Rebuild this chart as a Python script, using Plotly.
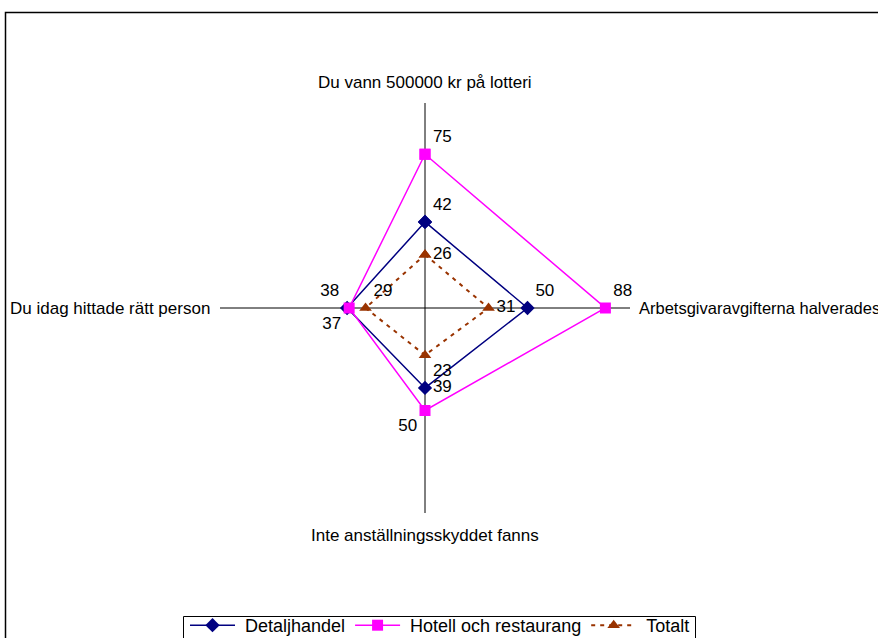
import plotly.graph_objects as go

W, H = 878, 638

categories = ["Du vann 500000 kr på lotteri", "Arbetsgivaravgifterna halverades",
              "Inte anställningsskyddet fanns", "Du idag hittade rätt person"]
series_names = ["Detaljhandel", "Hotell och restaurang", "Totalt"]
detaljhandel = [42, 50, 39, 38]
hotell = [75, 88, 50, 37]
totalt = [26, 31, 23, 29]

styles = [
    ("#000080", "diamond", "solid", 1.5, ["top right", "top right", "middle right", "top left"]),
    ("#FF00FF", "square", "solid", 1.5, ["top right", "top right", "bottom left", "bottom left"]),
    ("#993300", "triangle-up", "4px,5px", 2, ["middle right", "middle right", "bottom right", "top right"]),
]

fig = go.Figure()
for name, vals, (color, sym, dash, lw, tpos) in zip(series_names, [detaljhandel, hotell, totalt], styles):
    fig.add_trace(go.Scatterpolar(
        r=vals + [vals[0]],
        theta=categories + [categories[0]],
        name="\u00a0" + name,
        mode="lines+markers+text",
        text=[str(v) for v in vals] + [""],
        textposition=tpos + ["top right"],
        textfont=dict(family="Liberation Sans, Arial", size=17, color="black"),
        line=dict(color=color, width=lw, dash=dash),
        marker=dict(symbol=sym, size=11, color=color),
        cliponaxis=False,
    ))

cx, cy, R = 425, 308, 205
fig.update_layout(
    width=W, height=H,
    margin=dict(l=0, r=0, t=0, b=0, autoexpand=False),
    paper_bgcolor="white",
    font=dict(family="Liberation Sans, Arial", size=17, color="black"),
    polar=dict(
        domain=dict(x=[(cx - R) / W, (cx + R) / W], y=[(H - cy - R) / H, (H - cy + R) / H]),
        bgcolor="rgba(0,0,0,0)",
        radialaxis=dict(range=[0, 100], visible=False, showgrid=False, showline=False),
        angularaxis=dict(rotation=90, direction="clockwise", showline=False,
                         showticklabels=False, ticks="", showgrid=True,
                         gridcolor="black", gridwidth=1),
    ),
    legend=dict(orientation="h", x=185 / W, y=(H - 607) / H, xanchor="left", yanchor="top",
                borderwidth=0, bgcolor="rgba(0,0,0,0)",
                font=dict(size=18), itemwidth=45, tracegroupgap=0),
    shapes=[
        dict(type="rect", xref="paper", yref="paper",
             x0=5.5 / W, x1=1.2, y0=-0.2, y1=(H - 12.5) / H,
             line=dict(color="black", width=1.5)),
        dict(type="rect", xref="paper", yref="paper",
             x0=183.5 / W, x1=695.5 / W, y0=-0.1, y1=(H - 616.5) / H,
             line=dict(color="black", width=1)),
    ],
)

label_pos = [
    (425, 83, "center", 17),
    (637, 308, "left", 16.5),
    (425, 535, "center", 17),
    (212, 308, "right", 17),
]
for cat, (x, y, xa, fs) in zip(categories, label_pos):
    fig.add_annotation(text=cat, x=x / W, y=(H - y) / H, xref="paper", yref="paper",
                       xanchor=xa, yanchor="middle", showarrow=False,
                       font=dict(size=fs))

fig.write_html("out.html", config={"displayModeBar": False},
               post_script="document.body.style.margin='0px';document.body.style.overflow='hidden';")
